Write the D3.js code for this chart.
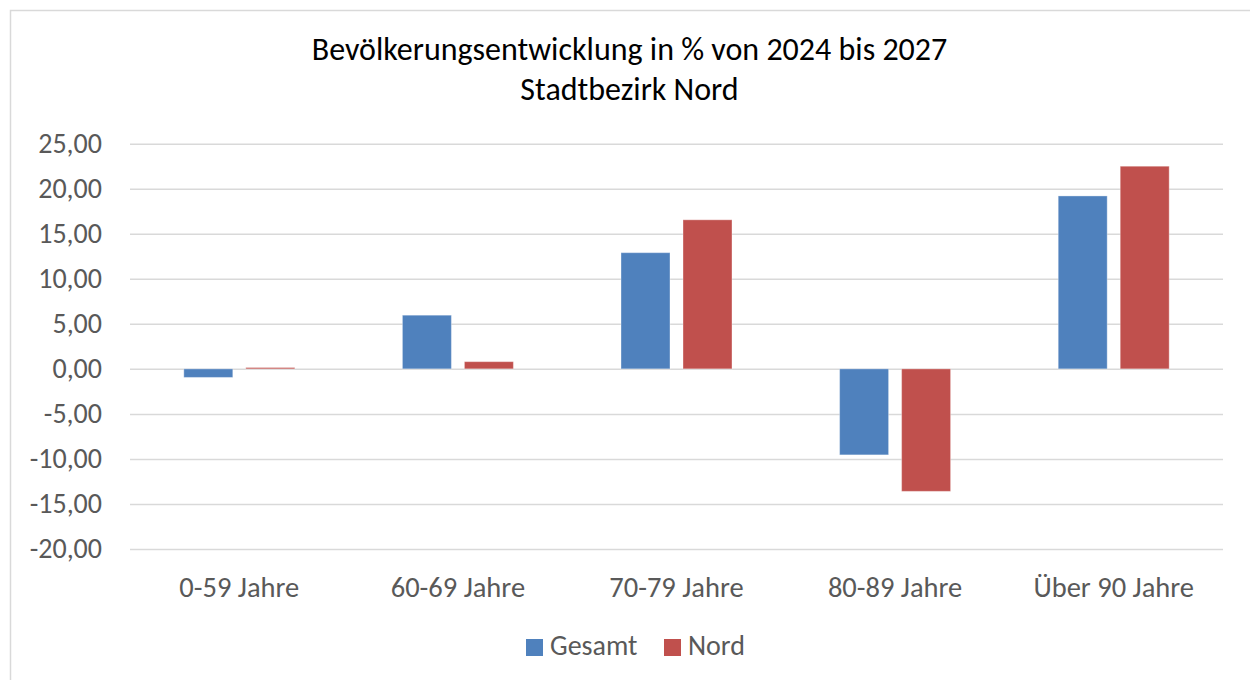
<!DOCTYPE html>
<html>
<head>
<meta charset="utf-8">
<script src="https://cdn.jsdelivr.net/npm/d3@7"></script>
<style>
  body { margin: 0; background: #fff; }
  text { font-family: Carlito, Calibri, Lato, sans-serif; }
</style>
</head>
<body>
<div id="chart"></div>
<script>
// Daten
const kategorien = ["0-59 Jahre", "60-69 Jahre", "70-79 Jahre", "80-89 Jahre", "Über 90 Jahre"];
const serien = ["Gesamt", "Nord"];
const gesamt = [-0.95, 5.96, 12.9, -9.55, 19.2];
const nord = [0.15, 0.8, 16.55, -13.6, 22.5];
const yTicks = [25, 20, 15, 10, 5, 0, -5, -10, -15, -20];
const farben = ["#4F81BD", "#C0504D"];
const titel = ["Bevölkerungsentwicklung in % von 2024 bis 2027", "Stadtbezirk Nord"];

const W = 1250, H = 680;
const plot = { left: 130, right: 1223, top: 143.7, bottom: 549 };

const svg = d3.select("#chart").append("svg")
  .attr("width", W)
  .attr("height", H);

// Rahmen
svg.append("rect")
  .attr("x", 10.5).attr("y", 10.5)
  .attr("width", W).attr("height", H)
  .attr("fill", "#fff")
  .attr("stroke", "#d9d9d9")
  .attr("stroke-width", 1.5);

//////////////////////////// Skalen //////////////////////////////////////
const x0 = d3.scaleBand()
  .domain(kategorien)
  .range([plot.left, plot.right])
  .padding(0);

const x1 = d3.scaleBand()
  .domain(serien)
  .range([0, x0.bandwidth()])
  .paddingInner(0.21)
  .paddingOuter(0.868);

const y = d3.scaleLinear()
  .domain([-20, 25])
  .range([plot.bottom, plot.top]);

//////////////////////////// Gitter + Achse //////////////////////////////
const yAxis = svg.append("g")
  .attr("transform", `translate(${plot.left},0)`)
  .call(d3.axisLeft(y)
    .tickValues(yTicks)
    .tickSize(-(plot.right - plot.left))
    .tickPadding(28)
    .tickFormat(d => d3.format(".2f")(d).replace(".", ",").replace("−", "-")));

yAxis.select(".domain").remove();
yAxis.selectAll(".tick line")
  .attr("stroke", "#d9d9d9")
  .attr("stroke-width", 1.5);
yAxis.selectAll(".tick text")
  .attr("fill", "#595959")
  .attr("font-size", 28)
  .attr("font-family", "Carlito, Calibri, Lato, sans-serif");

/////////////////////// Balken /////////////////////////////////////////////
const reihen = [gesamt, nord];
serien.forEach((s, i) => {
  svg.append("g").selectAll("rect")
    .data(kategorien.map((k, j) => ({ k: k, v: reihen[i][j] })))
    .enter()
    .append("rect")
    .attr("x", d => x0(d.k) + x1(s))
    .attr("y", d => y(Math.max(0, d.v)))
    .attr("width", x1.bandwidth())
    .attr("height", d => Math.abs(y(d.v) - y(0)))
    .attr("fill", farben[i])
    .attr("stroke", "#fff")
    .attr("stroke-opacity", 0.35)
    .attr("stroke-width", 1);
});

// Kategorie-Beschriftung
svg.append("g").selectAll("text")
  .data(kategorien)
  .enter()
  .append("text")
  .attr("x", d => x0(d) + x0.bandwidth() / 2)
  .attr("y", 597)
  .attr("text-anchor", "middle")
  .attr("fill", "#595959")
  .attr("font-size", 28.5)
  .text(d => d);

// Titel
svg.append("g").selectAll("text")
  .data(titel)
  .enter()
  .append("text")
  .attr("x", 629.5)
  .attr("y", (d, i) => 60 + i * 40)
  .attr("text-anchor", "middle")
  .attr("fill", "#000")
  .attr("font-size", 32)
  .text(d => d);

// Legende
const legende = svg.append("g");
const legPos = [526, 664];
serien.forEach((s, i) => {
  legende.append("rect")
    .attr("x", legPos[i]).attr("y", 639)
    .attr("width", 17).attr("height", 17)
    .attr("fill", farben[i]);
  legende.append("text")
    .attr("x", legPos[i] + 24)
    .attr("y", 655)
    .attr("fill", "#595959")
    .attr("font-size", 28)
    .text(s);
});
</script>
</body>
</html>
